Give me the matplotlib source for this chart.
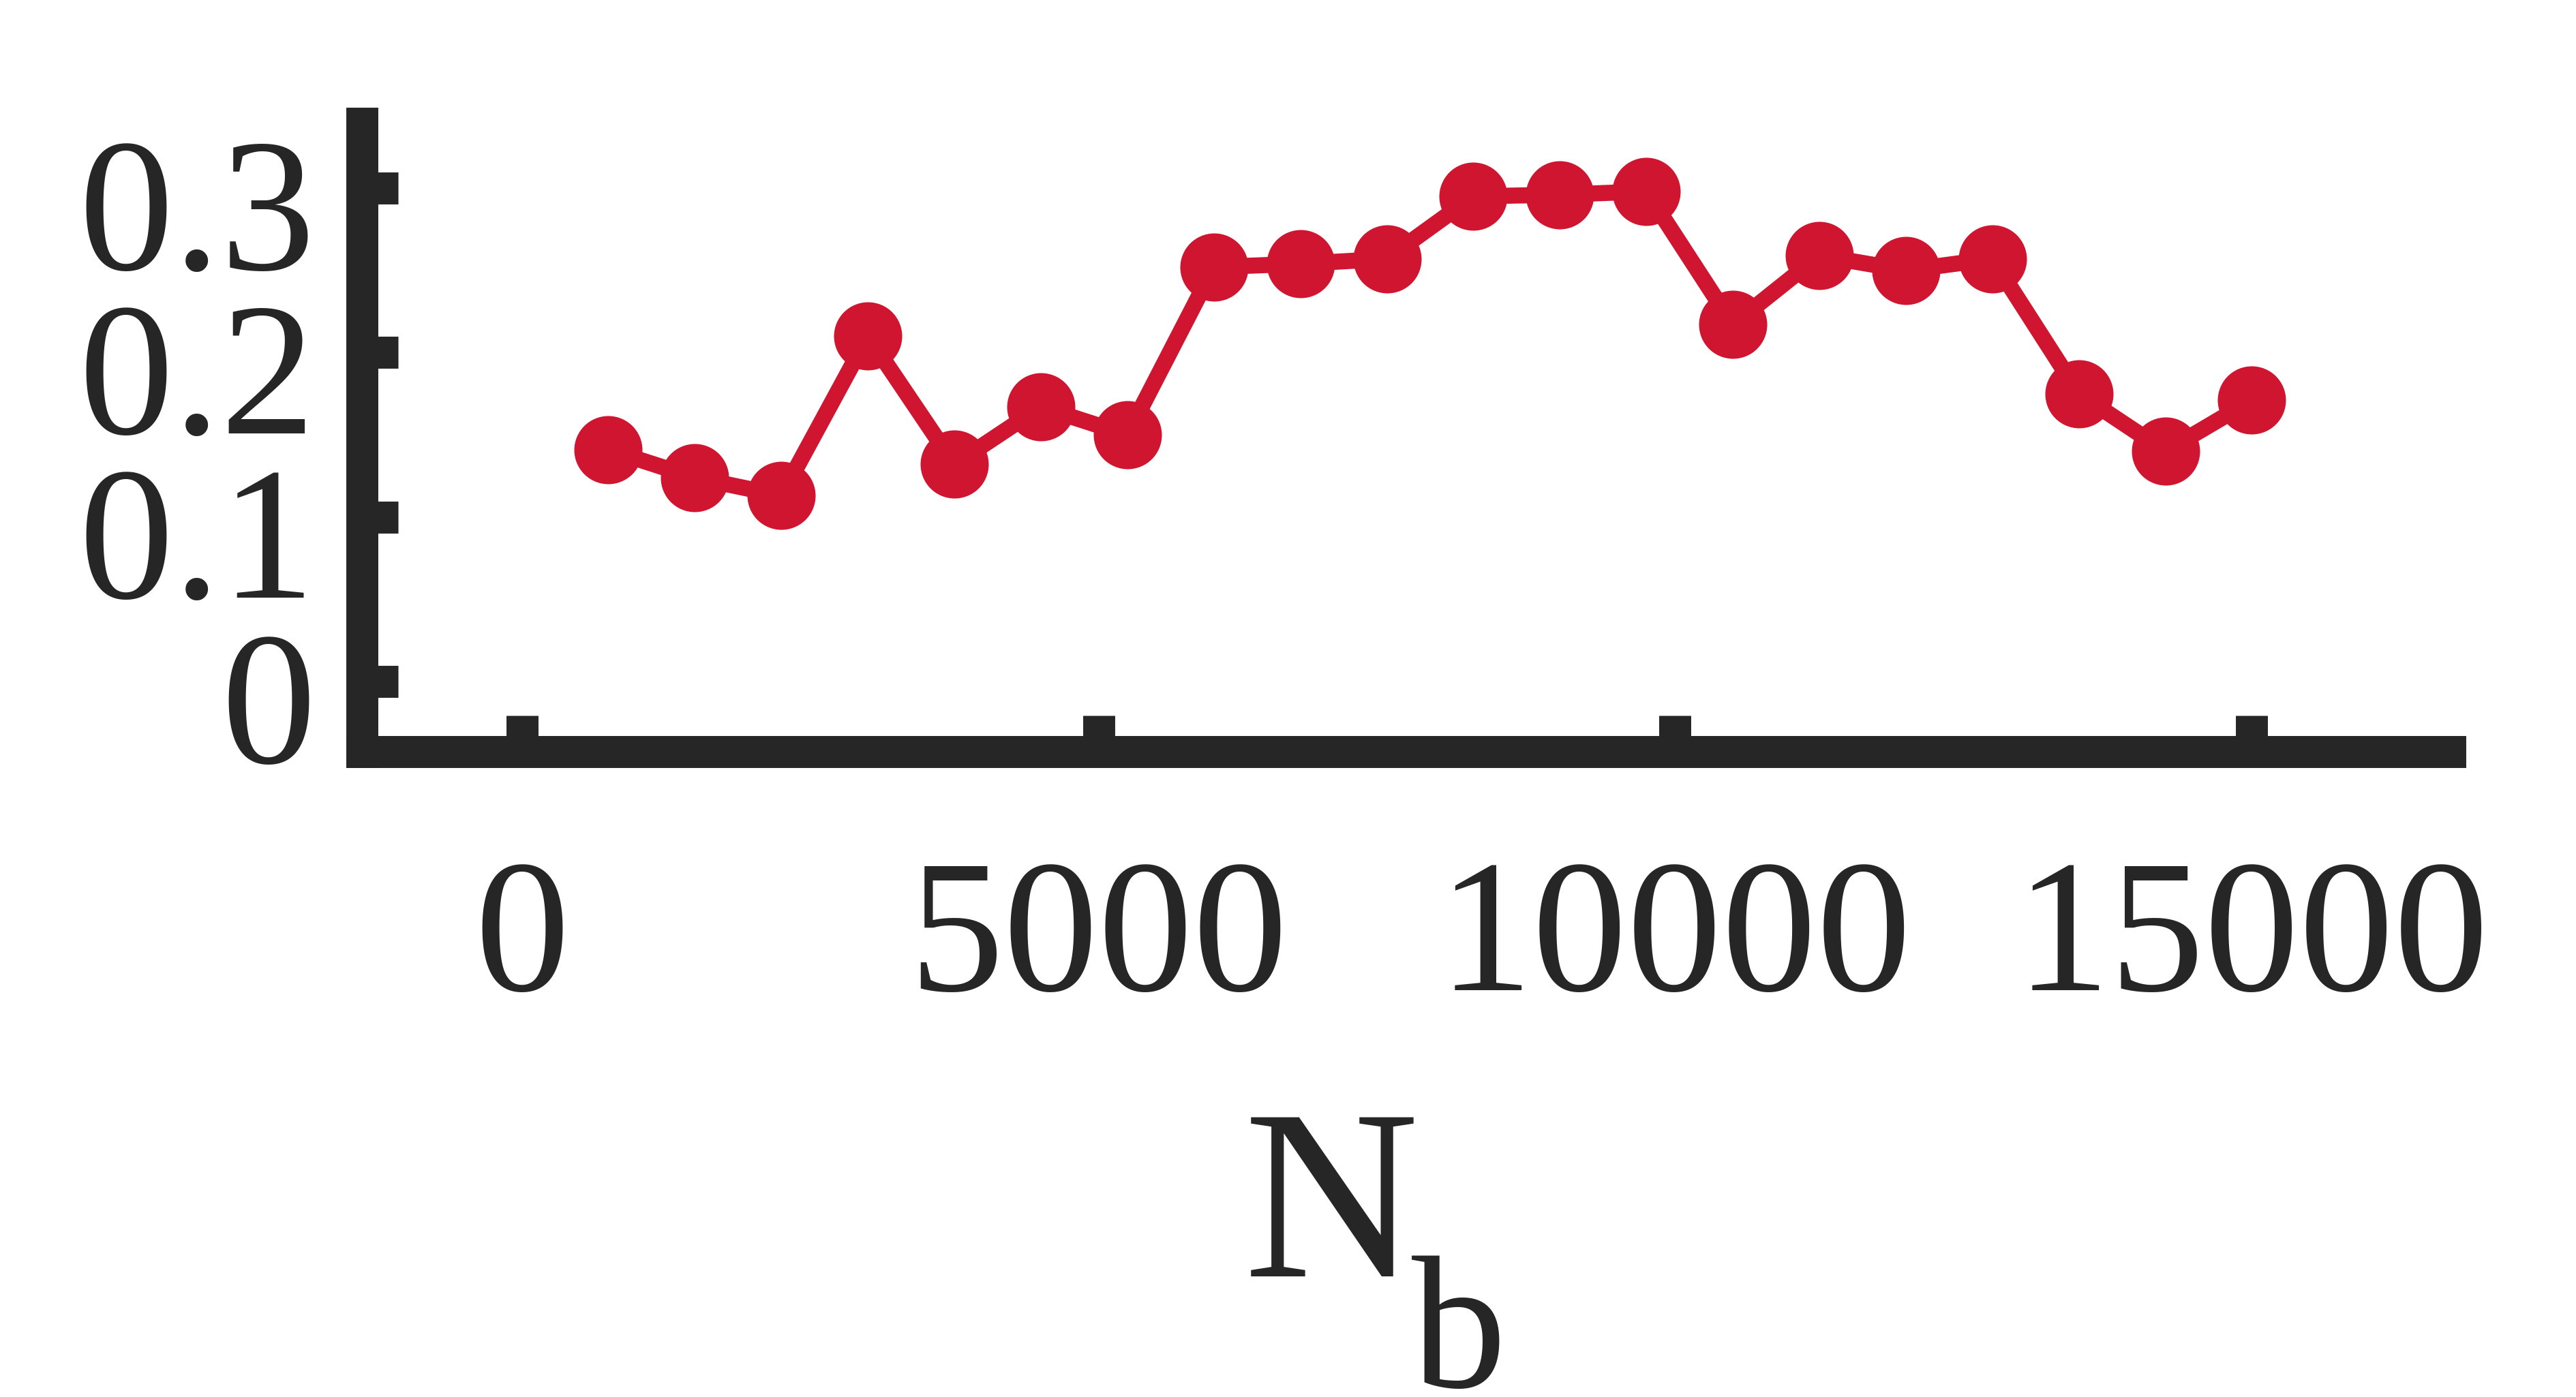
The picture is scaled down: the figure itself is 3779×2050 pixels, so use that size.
import matplotlib
matplotlib.use("Agg")
import matplotlib.pyplot as plt
import matplotlib.transforms as mtransforms

# --- data ---
n_b = [750, 1500, 2250, 3000, 3750, 4500, 5250, 6000, 6750, 7500,
       8250, 9000, 9750, 10500, 11250, 12000, 12750, 13500, 14250, 15000]
values = [0.141, 0.124, 0.113, 0.210, 0.132, 0.167, 0.150, 0.252, 0.254, 0.257,
          0.295, 0.296, 0.298, 0.217, 0.259, 0.250, 0.257, 0.175, 0.140, 0.171]
x_ticks = [0, 5000, 10000, 15000]
x_tick_labels = ["0", "5000", "10000", "15000"]
y_ticks = [0, 0.1, 0.2, 0.3]
y_tick_labels = ["0", "0.1", "0.2", "0.3"]

red = "#D01530"
dark = "#262626"

plt.rcParams['font.family'] = ['Liberation Serif', 'DejaVu Serif']

W, H, dpi = 3779, 2050, 100
fig = plt.figure(figsize=(W / dpi, H / dpi), dpi=dpi)

# axes box in pixels (left, right, top, bottom)
left_px, right_px, top_px, bottom_px = 530.5, 3594, 180.5, 1103.3
ax = fig.add_axes([left_px / W, 1 - bottom_px / H,
                   (right_px - left_px) / W, (bottom_px - top_px) / H])

ax.plot(n_b, values, color=red, linewidth=17, marker='o', markersize=72,
        markeredgewidth=0, solid_joinstyle='miter', clip_on=False)

ax.set_xlim(-1389, 16717)
ax.set_ylim(-0.0428, 0.3396)

for side in ['top', 'right']:
    ax.spines[side].set_visible(False)
for side in ['left', 'bottom']:
    ax.spines[side].set_linewidth(33.8)
    ax.spines[side].set_color(dark)

ax.set_xticks(x_ticks)
ax.set_xticklabels(x_tick_labels)
ax.set_yticks(y_ticks)
ax.set_yticklabels(y_tick_labels)

ax.tick_params(axis='both', direction='in', length=38.5, width=33.8,
               color=dark, labelcolor=dark, labelsize=200)
ax.tick_params(axis='x', pad=112.8)
ax.tick_params(axis='y', pad=48.6)

# y labels sit a little below their ticks in the original
shift = mtransforms.ScaledTranslation(0, -0.22, fig.dpi_scale_trans)
for lab in ax.get_yticklabels():
    lab.set_transform(lab.get_transform() + shift)

# axis label N with subscript b
ax.set_xlabel("N", fontsize=256, color=dark)
ax.xaxis.set_label_coords((1953 - left_px) / (right_px - left_px),
                          (bottom_px - 1873) / (bottom_px - top_px))
ax.xaxis.label.set_verticalalignment('baseline')
fig.text(2071 / W, 1 - 2035 / H, "b", fontsize=200, color=dark,
         ha='left', va='baseline')

fig.savefig("out.png", dpi=dpi, facecolor='white')
